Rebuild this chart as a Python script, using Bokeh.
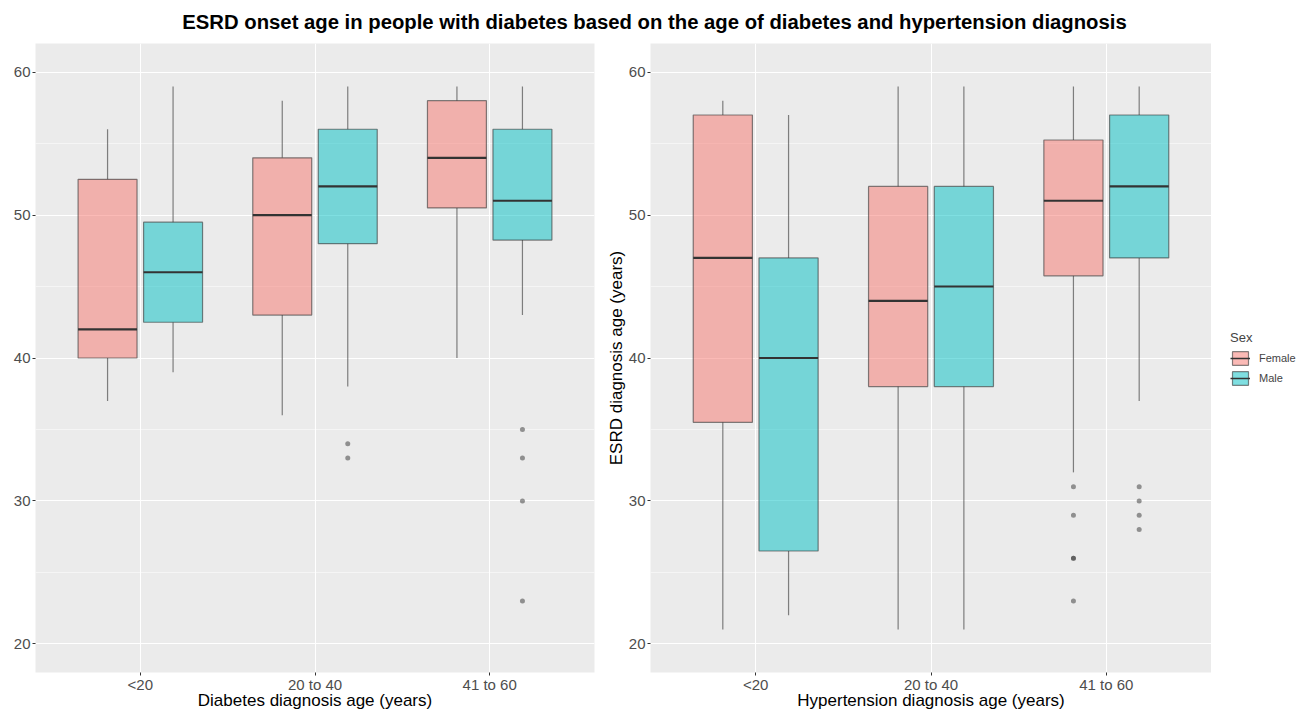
import numpy as np
from bokeh.plotting import figure
from bokeh.models import (ColumnDataSource, FactorRange, Range1d, FixedTicker,
                          Legend, LegendItem)
from bokeh.layouts import column, row
from bokeh.transform import dodge
from bokeh.embed import file_html
from bokeh.resources import INLINE

# ---- data -------------------------------------------------------------
cats = ["<20", "20 to 40", "41 to 60"]

# ESRD onset age by diabetes diagnosis age
dm_female_low = [37, 36, 40]
dm_female_q1 = [40, 43, 50.5]
dm_female_med = [42, 50, 54]
dm_female_q3 = [52.5, 54, 58]
dm_female_high = [56, 58, 59]

dm_male_low = [39, 38, 43]
dm_male_q1 = [42.5, 48, 48.25]
dm_male_med = [46, 52, 51]
dm_male_q3 = [49.5, 56, 56]
dm_male_high = [59, 59, 59]

dm_male_out_cat = ["20 to 40", "20 to 40", "41 to 60", "41 to 60", "41 to 60", "41 to 60"]
dm_male_out_val = [34, 33, 35, 33, 30, 23]

# ESRD onset age by hypertension diagnosis age
ht_female_low = [21, 21, 32]
ht_female_q1 = [35.5, 38, 45.75]
ht_female_med = [47, 44, 51]
ht_female_q3 = [57, 52, 55.25]
ht_female_high = [58, 59, 59]

ht_male_low = [22, 21, 37]
ht_male_q1 = [26.5, 38, 47]
ht_male_med = [40, 45, 52]
ht_male_q3 = [47, 52, 57]
ht_male_high = [57, 59, 59]

ht_female_out_cat = ["41 to 60"] * 5
ht_female_out_val = [31, 29, 26, 26, 23]
ht_male_out_cat = ["41 to 60"] * 4
ht_male_out_val = [31, 30, 29, 28]

sexes = ["Female", "Male"]

# ---- styling ------------------------------------------------------------
FONT = "Liberation Sans"
FEMALE = "#F8766D"
MALE = "#00BFC4"
DODGE = 0.1875
BOX_W = 0.3375
Y_TICKS = [20, 30, 40, 50, 60]
Y_MINOR = [25, 35, 45, 55]
FRAME_H = 629


def make_panel(frame_w, border_left, border_right, xlabel, ylabel):
    p = figure(
        x_range=FactorRange(*cats, range_padding=0.1, range_padding_units="absolute"),
        y_range=Range1d(18, 62),
        frame_width=frame_w, frame_height=FRAME_H,
        output_backend="svg", toolbar_location=None,
        min_border_left=border_left, min_border_right=border_right,
        min_border_top=2, min_border_bottom=30,
        background_fill_color="#EBEBEB", border_fill_color="white",
        outline_line_color=None,
    )
    p.yaxis.ticker = FixedTicker(ticks=Y_TICKS, minor_ticks=Y_MINOR)
    for ax in (p.xaxis[0], p.yaxis[0]):
        ax.axis_line_color = None
        ax.major_tick_line_color = "#333333"
        ax.major_tick_in = 0
        ax.major_tick_out = 3
        ax.minor_tick_line_color = None
        ax.major_label_text_font = FONT
        ax.major_label_text_font_size = "15px"
        ax.major_label_text_color = "#4D4D4D"
        ax.major_label_standoff = 1
        ax.axis_label_text_font = FONT
        ax.axis_label_text_font_size = "17px"
        ax.axis_label_text_font_style = "normal"
        ax.axis_label_text_color = "black"
        ax.axis_label_standoff = 0
    p.xaxis.major_label_standoff = 0
    p.xaxis.axis_label_standoff = -5
    p.xaxis.axis_label = xlabel
    p.yaxis.axis_label = ylabel
    p.xgrid.grid_line_color = "white"
    p.xgrid.grid_line_width = 1.1
    p.ygrid.grid_line_color = "white"
    p.ygrid.grid_line_width = 1.1
    p.ygrid.minor_grid_line_color = "white"
    p.ygrid.minor_grid_line_width = 0.5
    return p


def draw_boxes(p, low, q1, med, q3, high, offset, color):
    src = ColumnDataSource(dict(cat=cats, low=low, q1=q1, med=med, q3=q3, high=high))
    xc = dodge("cat", offset, range=p.x_range)
    p.segment(x0=xc, y0="q3", x1=xc, y1="high", source=src,
              line_color="#333333", line_alpha=0.6, line_width=1.2)
    p.segment(x0=xc, y0="low", x1=xc, y1="q1", source=src,
              line_color="#333333", line_alpha=0.6, line_width=1.2)
    p.vbar(x=xc, width=BOX_W, bottom="q1", top="q3", source=src,
           fill_color=color, fill_alpha=0.5,
           line_color="#333333", line_alpha=0.6, line_width=1.2)
    p.segment(x0=dodge("cat", offset - BOX_W / 2, range=p.x_range), y0="med",
              x1=dodge("cat", offset + BOX_W / 2, range=p.x_range), y1="med",
              source=src, line_color="#333333", line_width=2.2)


def draw_outliers(p, cat_list, vals, offset):
    src = ColumnDataSource(dict(cat=cat_list, val=vals))
    p.scatter(x=dodge("cat", offset, range=p.x_range), y="val", source=src,
              size=5, fill_color="#333333", fill_alpha=0.5, line_color=None)


# ---- title strip ------------------------------------------------------
head = figure(width=1308, height=41, output_backend="svg", toolbar_location=None,
              x_range=Range1d(0, 1), y_range=Range1d(0, 1),
              min_border_top=40, min_border_bottom=0, min_border_left=0,
              min_border_right=0, outline_line_color=None,
              background_fill_color="white", border_fill_color="white")
head.axis.visible = False
head.grid.visible = False
head.title.text = ("ESRD onset age in people with diabetes based on the age of "
                   "diabetes and hypertension diagnosis")
head.title.align = "center"
head.title.text_font = FONT
head.title.text_font_size = "20.3px"
head.title.text_font_style = "bold"
head.title.text_color = "black"
head.title.offset = 0
head.title.standoff = 15

# ---- left panel: diabetes ---------------------------------------------
p1 = make_panel(559, 35, 6, "Diabetes diagnosis age (years)", None)
draw_boxes(p1, dm_female_low, dm_female_q1, dm_female_med, dm_female_q3,
           dm_female_high, -DODGE, FEMALE)
draw_boxes(p1, dm_male_low, dm_male_q1, dm_male_med, dm_male_q3,
           dm_male_high, DODGE, MALE)
draw_outliers(p1, dm_male_out_cat, dm_male_out_val, DODGE)

# ---- right panel: hypertension ----------------------------------------
p2 = make_panel(561, 50, 0, "Hypertension diagnosis age (years)",
                "ESRD diagnosis age (years)")
draw_boxes(p2, ht_female_low, ht_female_q1, ht_female_med,
           ht_female_q3, ht_female_high, -DODGE, FEMALE)
draw_boxes(p2, ht_male_low, ht_male_q1, ht_male_med,
           ht_male_q3, ht_male_high, DODGE, MALE)
draw_outliers(p2, ht_female_out_cat, ht_female_out_val, -DODGE)
draw_outliers(p2, ht_male_out_cat, ht_male_out_val, DODGE)

# ---- legend strip -------------------------------------------------------
# Key renderers hold a single undefined (NaN) row: nothing is drawn in the
# strip itself, only their swatches inside the legend.
lg = figure(x_range=Range1d(0, 1), y_range=Range1d(0, 1),
            frame_width=97, frame_height=FRAME_H, output_backend="svg",
            toolbar_location=None,
            min_border_top=2, min_border_bottom=0, min_border_left=0,
            min_border_right=0, outline_line_color=None,
            background_fill_color="white", border_fill_color="white")
lg.axis.visible = False
lg.grid.visible = False
items = []
for sex, color in zip(sexes, [FEMALE, MALE]):
    ksrc = ColumnDataSource(dict(x=np.array([np.nan]), y=np.array([np.nan])))
    kbox = lg.vbar(x="x", width=0.5, top="y", bottom="y", source=ksrc,
                   fill_color=color, fill_alpha=0.5,
                   line_color="#333333", line_alpha=0.6, line_width=1.2)
    kmed = lg.segment(x0="x", y0="y", x1="x", y1="y", source=ksrc,
                      line_color="#333333", line_width=1.5)
    items.append(LegendItem(label=sex, renderers=[kbox, kmed]))

legend = Legend(
    items=items, title="Sex", location="center_left",
    title_text_font=FONT, title_text_font_size="13px", title_text_font_style="normal",
    label_text_font=FONT, label_text_font_size="11px",
    glyph_width=20, glyph_height=17, label_height=17,
    label_standoff=9, spacing=3, padding=0, margin=19,
    border_line_color=None, background_fill_alpha=0,
)
lg.add_layout(legend, "center")

layout = column(head, row(p1, p2, lg))
open("out.html", "w").write(file_html(layout, INLINE))
